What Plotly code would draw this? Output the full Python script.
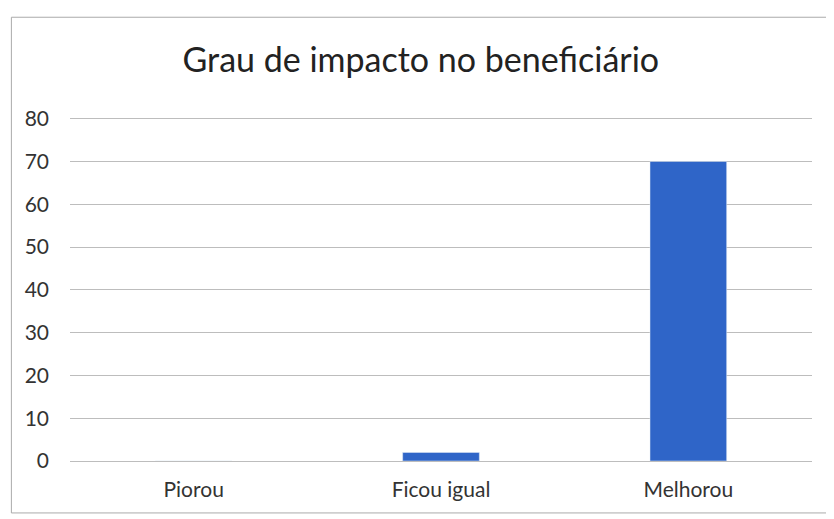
import plotly.graph_objects as go

categories = ["Piorou", "Ficou igual", "Melhorou"]
values = [0, 2, 70]
tick_vals = [0, 10, 20, 30, 40, 50, 60, 70, 80]

fig = go.Figure()
fig.add_trace(go.Bar(x=categories, y=values, marker_color="#2F65C8", width=0.31))

fig.update_layout(
    width=834, height=519,
    margin=dict(l=62, r=30, t=109, b=66),
    paper_bgcolor="white", plot_bgcolor="white",
    title=dict(text="Grau de impacto no beneficiário", x=0.495, xanchor="center",
               y=0.9, yanchor="middle",
               font=dict(family="Lato, Open Sans, sans-serif", size=34, color="#222")),
    font=dict(family="Lato, Open Sans, sans-serif", size=21, color="#333"),
    showlegend=False,
)
fig.update_yaxes(range=[0, 80.4], tickvals=tick_vals, showgrid=True, gridcolor="#bdbdbd",
                 gridwidth=1, zeroline=False, showline=False, ticks="", ticklen=0,
                 ticklabelstandoff=20,
                 tickfont=dict(size=21, color="#333"))
fig.update_xaxes(showline=True, linecolor="#bdbdbd", linewidth=1, ticks="",
                 ticklabelstandoff=10,
                 tickfont=dict(size=21, color="#333"))

fig.add_shape(type="line", xref="paper", yref="paper", x0=-0.079, x1=-0.079, y0=-0.151, y1=1.29,
              line=dict(color="#aaaaaa", width=1))
fig.add_shape(type="line", xref="paper", yref="paper", x0=-0.079, x1=1.05, y0=1.29, y1=1.29,
              line=dict(color="#aaaaaa", width=1))
fig.add_shape(type="line", xref="paper", yref="paper", x0=-0.079, x1=1.05, y0=-0.151, y1=-0.151,
              line=dict(color="#aaaaaa", width=1))

fig.write_html("out.html")
